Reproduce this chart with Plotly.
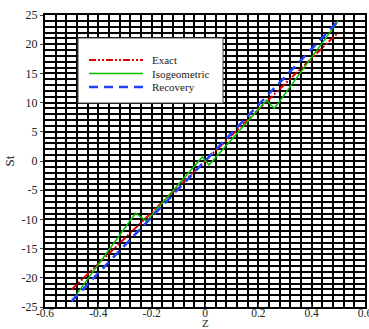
import plotly.graph_objects as go

# Data
z_exact = [-0.5, 0.5]
st_exact = [-22, 22]
z_iso = [-0.5, -0.26, -0.22, -0.01, 0.015, 0.23, 0.26, 0.5]
st_iso = [-24, -8.9, -10.3, 0.7, -0.7, 10.4, 9.0, 24]
z_rec = [-0.5, 0.5]
st_rec = [-24, 24]
names = ["Exact", "Isogeometric", "Recovery"]
x_tickvals = [-0.6, -0.4, -0.2, 0, 0.2, 0.4, 0.6]
x_ticktext = ["-0.6", "-0.4", "-0.2", "0", "0.2", "0.4", "0.6"]
y_tickvals = [-25, -20, -15, -10, -5, 0, 5, 10, 15, 20, 25]
y_ticktext = ["-25", "-20", "-15", "-10", "-5", "0", "5", "10", "15", "20", "25"]

colors = ["#e00000", "#00c000", "#2040ff"]
dashes = ["7px,2px,2px,2px,2px,2px", "solid", "9px,6px"]
widths = [2, 1.5, 2.5]

FONT = "Liberation Serif, Times New Roman, serif"
L, R, T, B = 45, 4, 15, 22
W, H = 369, 329
pw, ph = W - L - R, H - T - B

fig = go.Figure()
for zs, ss, n, c, d, w in zip([z_exact, z_iso, z_rec], [st_exact, st_iso, st_rec], names, colors, dashes, widths):
    fig.add_trace(go.Scatter(x=zs, y=ss, mode="lines", name=n,
                             line=dict(color=c, dash=d, width=w), showlegend=False))

def px2paper_x(px):
    return (px - L) / pw

def px2paper_y(py):
    return (H - B - py) / ph

# legend box
fig.add_shape(type="rect", xref="paper", yref="paper",
              x0=px2paper_x(78), x1=px2paper_x(223), y0=px2paper_y(103), y1=px2paper_y(38),
              fillcolor="white", line=dict(color="#444", width=1), layer="above")
for i, (n, c, d, w) in enumerate(zip(names, colors, dashes, widths)):
    yy = px2paper_y(60 + 13.5 * i)
    fig.add_shape(type="line", xref="paper", yref="paper",
                  x0=px2paper_x(89), x1=px2paper_x(143), y0=yy, y1=yy,
                  line=dict(color=c, dash=d, width=w), layer="above")
    fig.add_annotation(xref="paper", yref="paper", x=px2paper_x(150), y=yy,
                       text=n, showarrow=False, xanchor="left", yanchor="middle",
                       font=dict(family=FONT, size=11, color="#222"))

# axis title Z at the very bottom, as in the reference
fig.add_annotation(xref="paper", yref="paper", x=0.5, y=px2paper_y(330), yanchor="bottom",
                   text="Z", showarrow=False, borderpad=0,
                   font=dict(family=FONT, size=11, color="#222"))

fig.update_layout(
    width=W, height=H, autosize=False,
    margin=dict(l=L, r=R, t=T, b=B),
    plot_bgcolor="white", paper_bgcolor="white",
    font=dict(family=FONT, size=12, color="#222"),
)
fig.update_xaxes(range=[-0.6, 0.6], tickmode="array", tickvals=x_tickvals, ticktext=x_ticktext,
                 ticklabeloverflow="allow", automargin=False, ticklabelstandoff=-6,
                 showgrid=True, gridcolor="black", gridwidth=2,
                 minor=dict(dtick=0.04, tick0=-0.6, showgrid=True, gridcolor="black", gridwidth=2),
                 zeroline=False, showline=True, linecolor="black", linewidth=2, mirror=True,
                 ticks="inside", ticklen=3, tickcolor="#444", tickfont=dict(size=11.5))
fig.update_yaxes(range=[-25, 25], tickmode="array", tickvals=y_tickvals, ticktext=y_ticktext,
                 ticklabeloverflow="allow", automargin=False,
                 showgrid=True, gridcolor="black", gridwidth=2,
                 minor=dict(dtick=1, tick0=-25, showgrid=True, gridcolor="black", gridwidth=2),
                 zeroline=False, showline=True, linecolor="black", linewidth=2, mirror=True,
                 ticks="outside", ticklen=3, tickcolor="#444", tickfont=dict(size=12),
                 title=dict(text="St", standoff=4, font=dict(family=FONT, size=13)))

fig.write_html("out.html")
